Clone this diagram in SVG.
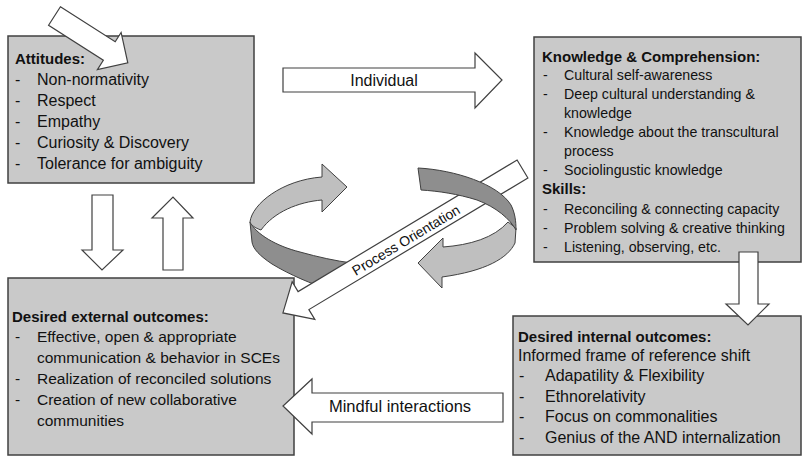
<svg xmlns="http://www.w3.org/2000/svg" width="804" height="456" viewBox="0 0 804 456">
  <style>
    .box { fill: #c9c9c9; stroke: #404040; stroke-width: 1.5; }
    .arrow { fill: #ffffff; stroke: #404040; stroke-width: 1.2; stroke-linejoin: miter; }
    .light { fill: #bfbfbf; stroke: #404040; stroke-width: 1; }
    .dark { fill: #8e8e8e; stroke: #404040; stroke-width: 1; }
    text { font-family: "Liberation Sans", Arial, sans-serif; font-size: 16px; fill: #111111; }
    .title { font-weight: bold; font-size: 15px; }
    .sm { font-size: 14.2px; }
    .ext { font-size: 15.5px; }
  </style>

  <rect width="804" height="456" fill="#ffffff"/>

  <!-- Nodes -->
  <g id="attitudes">
    <rect class="box" x="8" y="36" width="246" height="147"/>
    <text class="title" x="15" y="64">Attitudes:</text>
    <text x="15" y="85">-</text><text x="37" y="85">Non-normativity</text>
    <text x="15" y="106">-</text><text x="37" y="106">Respect</text>
    <text x="15" y="127">-</text><text x="37" y="127">Empathy</text>
    <text x="15" y="148">-</text><text x="37" y="148">Curiosity &amp; Discovery</text>
    <text x="15" y="169">-</text><text x="37" y="169">Tolerance for ambiguity</text>
  </g>

  <g id="knowledge">
    <rect class="box" x="534" y="37" width="267" height="225"/>
    <text class="title" x="542" y="62">Knowledge &amp; Comprehension:</text>
    <text class="sm" x="543" y="80">-</text><text class="sm" x="564" y="80">Cultural self-awareness</text>
    <text class="sm" x="543" y="99">-</text><text class="sm" x="564" y="99">Deep cultural understanding &amp;</text>
    <text class="sm" x="564" y="118">knowledge</text>
    <text class="sm" x="543" y="137">-</text><text class="sm" x="564" y="137">Knowledge about the transcultural</text>
    <text class="sm" x="564" y="156">process</text>
    <text class="sm" x="543" y="175">-</text><text class="sm" x="564" y="175">Sociolingustic knowledge</text>
    <text class="title" x="542" y="194">Skills:</text>
    <text class="sm" x="543" y="214">-</text><text class="sm" x="564" y="214">Reconciling &amp; connecting capacity</text>
    <text class="sm" x="543" y="233">-</text><text class="sm" x="564" y="233">Problem solving &amp; creative thinking</text>
    <text class="sm" x="543" y="252">-</text><text class="sm" x="564" y="252">Listening, observing, etc.</text>
  </g>

  <g id="external">
    <rect class="box" x="8" y="278" width="286" height="177"/>
    <text class="title" x="12" y="322">Desired external outcomes:</text>
    <text class="ext" x="15" y="342">-</text><text class="ext" x="37" y="342">Effective, open &amp; appropriate</text>
    <text class="ext" x="37" y="363">communication &amp; behavior in SCEs</text>
    <text class="ext" x="15" y="384">-</text><text class="ext" x="37" y="384">Realization of reconciled solutions</text>
    <text class="ext" x="15" y="405">-</text><text class="ext" x="37" y="405">Creation of new collaborative</text>
    <text class="ext" x="37" y="426">communities</text>
  </g>

  <g id="internal">
    <rect class="box" x="513" y="316" width="288" height="139"/>
    <text class="title" x="518" y="342">Desired internal outcomes:</text>
    <text x="518" y="361">Informed frame of reference shift</text>
    <text x="519" y="381">-</text><text x="545" y="381">Adapatility &amp; Flexibility</text>
    <text x="519" y="402">-</text><text x="545" y="402">Ethnorelativity</text>
    <text x="519" y="422">-</text><text x="545" y="422">Focus on commonalities</text>
    <text x="519" y="443">-</text><text x="545" y="443">Genius of the AND internalization</text>
  </g>

  <!-- Connectors -->
  <g id="connectors">
    <!-- entry arrow into Attitudes -->
    <polygon class="arrow" transform="translate(54.5,16) rotate(32.6)" points="0,-11 65,-11 65,-22 87,0 65,22 65,11 0,11"/>

    <!-- Individual -->
    <polygon class="arrow" points="283,68 475,68 475,53 502,80 475,108 475,92 283,92"/>
    <text x="384" y="86" text-anchor="middle">Individual</text>

    <!-- Attitudes <-> external outcomes -->
    <polygon class="arrow" points="92,195 113,195 113,250 123,250 102,270 82,250 92,250"/>
    <polygon class="arrow" points="163,270 183,270 183,218 193,218 173,197 152,218 163,218"/>

    <!-- Knowledge -> internal outcomes -->
    <polygon class="arrow" points="739,252 758,252 758,304 769,304 748,325 726,304 739,304"/>

    <!-- Mindful interactions -->
    <polygon class="arrow" points="503,393 312,393 312,379 283,406 312,434 312,422 503,422"/>
    <text x="400" y="412" text-anchor="middle" style="font-size:16.5px">Mindful interactions</text>

    <!-- circular ribbon, left half -->
    <g id="cycle-left">
      <path class="dark" d="M250,222 C256,234 276,246 300,252 C318,257 336,261 352,263 L330,290 C312,284 290,275 272,264 C260,256 253,249 252,242 Z"/>
      <path class="light" d="M322,177 L322,164 L347,187 L322,212 L322,200 C298,202 274,212 261,230 C255,228 251,225 250,222 C252,204 282,180 322,177 Z"/>
    </g>

    <!-- Process Orientation -->
    <polygon class="arrow" transform="translate(522.5,169) rotate(149)" points="0,-10.5 255.5,-10.5 255.5,-22 279.5,0 255.5,22 255.5,10.5 0,10.5"/>
    <text x="406" y="245" text-anchor="middle" transform="rotate(-31 406 240)" style="font-size:14px">Process Orientation</text>

    <!-- circular ribbon, right half -->
    <g id="cycle-right">
      <path class="light" d="M516,228 L515,243 C508,258 486,271 442,277 L442,288 L418,263 L443,238 L443,247 C470,245 494,238 508,222 Z"/>
      <path class="dark" d="M418,168 C455,170 498,184 511,205 C515,213 516,221 516,230 C510,219 496,207 477,200 C458,194 438,191 421,190 Z"/>
    </g>
  </g>
</svg>
